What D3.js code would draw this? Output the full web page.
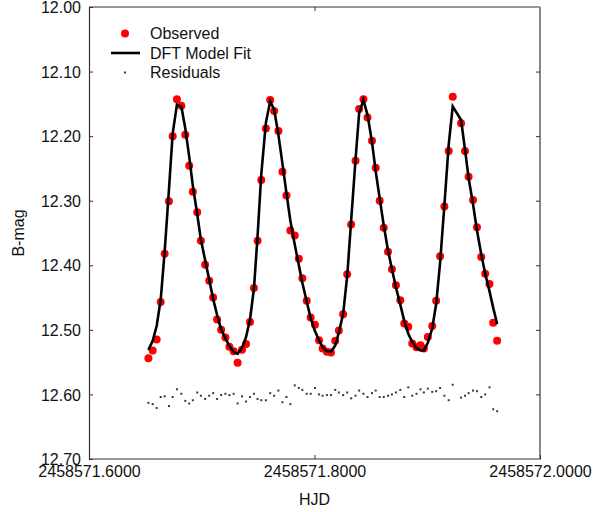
<!DOCTYPE html>
<html><head><meta charset="utf-8">
<script src="https://cdn.jsdelivr.net/npm/d3@7"></script>
<style>body{margin:0;background:#fff;} svg{display:block;} text{font-family:"Liberation Sans",Arial,sans-serif;}</style>
</head><body><svg id="c" width="595" height="512"></svg>
<script>
const hjd = [2458571.6527,2458571.6565,2458571.6600,2458571.6636,2458571.6671,2458571.6709,2458571.6742,2458571.6780,2458571.6819,2458571.6854,
2458571.6889,2458571.6921,2458571.6960,2458571.6992,2458571.7030,2458571.7066,2458571.7101,2458571.7136,2458571.7172,2458571.7210,
2458571.7245,2458571.7283,2458571.7318,2458571.7357,2458571.7393,2458571.7428,2458571.7463,2458571.7495,2458571.7528,2458571.7569,
2458571.7607,2458571.7642,2458571.7680,2458571.7716,2458571.7751,2458571.7786,2458571.7825,2458571.7861,2458571.7892,2458571.7931,
2458571.7966,2458571.8004,2458571.8040,2458571.8072,2458571.8110,2458571.8146,2458571.8184,2458571.8216,2458571.8254,2458571.8290,
2458571.8325,2458571.8364,2458571.8396,2458571.8434,2458571.8470,2458571.8510,2458571.8543,2458571.8578,2458571.8614,2458571.8652,
2458571.8687,2458571.8722,2458571.8761,2458571.8796,2458571.8832,2458571.8867,2458571.8905,2458571.8940,2458571.8970,2458571.9005,
2458571.9044,2458571.9079,2458571.9114,2458571.9152,2458571.9190,2458571.9226,2458571.9300,2458571.9335,2458571.9367,2458571.9406,
2458571.9441,2458571.9479,2458571.9514,2458571.9552,2458571.9585,2458571.9620];
const observed = [12.544,12.532,12.515,12.457,12.382,12.301,12.200,12.143,12.153,12.198,
12.246,12.286,12.318,12.362,12.399,12.424,12.450,12.484,12.500,12.512,
12.526,12.533,12.551,12.531,12.522,12.488,12.435,12.362,12.268,12.188,
12.144,12.161,12.192,12.255,12.292,12.346,12.354,12.390,12.420,12.455,
12.481,12.492,12.516,12.529,12.534,12.535,12.517,12.501,12.476,12.414,
12.337,12.238,12.158,12.143,12.171,12.207,12.249,12.300,12.342,12.379,
12.406,12.431,12.454,12.490,12.495,12.521,12.527,12.524,12.529,12.511,
12.494,12.455,12.386,12.309,12.223,12.139,12.180,12.223,12.263,12.299,
12.341,12.387,12.413,12.429,12.489,12.517];
const model = [12.531,12.517,12.494,12.453,12.379,12.283,12.196,12.151,12.154,12.188,
12.232,12.277,12.321,12.360,12.392,12.422,12.452,12.477,12.499,12.513,
12.525,12.534,12.537,12.528,12.511,12.484,12.436,12.355,12.259,12.179,
12.146,12.159,12.198,12.243,12.288,12.331,12.368,12.400,12.427,12.456,
12.482,12.502,12.516,12.527,12.533,12.534,12.524,12.504,12.475,12.417,
12.331,12.236,12.164,12.144,12.167,12.209,12.255,12.296,12.338,12.377,
12.406,12.434,12.461,12.486,12.506,12.519,12.528,12.532,12.532,12.520,
12.498,12.460,12.396,12.307,12.214,12.154,12.175,12.221,12.265,12.305,
12.346,12.383,12.413,12.440,12.466,12.491];
const residuals = [12.613,12.615,12.621,12.604,12.603,12.618,12.604,12.592,12.599,12.610,
12.614,12.609,12.597,12.602,12.607,12.602,12.598,12.607,12.601,12.599,
12.601,12.599,12.614,12.603,12.611,12.604,12.599,12.607,12.609,12.609,
12.598,12.602,12.594,12.612,12.604,12.615,12.586,12.590,12.593,12.599,
12.599,12.590,12.600,12.602,12.601,12.601,12.593,12.597,12.601,12.597,
12.606,12.602,12.594,12.599,12.604,12.598,12.594,12.604,12.604,12.602,
12.600,12.597,12.593,12.604,12.589,12.602,12.599,12.592,12.597,12.591,
12.596,12.595,12.590,12.602,12.609,12.585,12.605,12.602,12.598,12.594,
12.595,12.604,12.600,12.589,12.623,12.626];
const xTicks = [2458571.6, 2458571.8, 2458572.0];
const yTicks = [12.0,12.1,12.2,12.3,12.4,12.5,12.6,12.7];
const legendLabels = ["Observed","DFT Model Fit","Residuals"];

const svg = d3.select("#c");
const L=89, R=540, T=7, B=459;
const x = d3.scaleLinear().domain([2458571.6, 2458572.0]).range([L, R]);
const y = d3.scaleLinear().domain([12.0, 12.7]).range([T, B]);

// residuals
svg.append("g").selectAll("rect").data(residuals).join("rect")
  .attr("x",(d,i)=>x(hjd[i])-1).attr("y",d=>y(d)-1).attr("width",2).attr("height",2).attr("fill","#3a3a3a");

// observed
svg.append("g").selectAll("circle").data(observed).join("circle")
  .attr("cx",(d,i)=>x(hjd[i])).attr("cy",d=>y(d)).attr("r",4).attr("fill","#ff0000");

// model
const line = d3.line().x((d,i)=>x(hjd[i])).y(d=>y(d));
svg.append("path").datum(model).attr("d",line).attr("fill","none").attr("stroke","#000").attr("stroke-width",2.6).attr("stroke-linejoin","miter");

// frame
svg.append("line").attr("x1",L).attr("x2",R).attr("y1",T).attr("y2",T).attr("stroke","#333").attr("stroke-width",1.2);
svg.append("line").attr("x1",L).attr("x2",R+1).attr("y1",B).attr("y2",B).attr("stroke","#333").attr("stroke-width",1.2);
svg.append("line").attr("x1",R).attr("x2",R).attr("y1",T).attr("y2",B).attr("stroke","#7a7a7a").attr("stroke-width",1.8);

// axes
const yAxis = d3.axisLeft(y).tickValues(yTicks).tickFormat(d3.format(".2f")).tickSizeInner(-4).tickSizeOuter(0).tickPadding(8);
const gy = svg.append("g").attr("transform",`translate(${L},0)`).call(yAxis);
const yAxisR = d3.axisRight(y).tickValues(yTicks.slice(1,-1)).tickFormat("").tickSizeInner(-4).tickSizeOuter(0);
const gyr = svg.append("g").attr("transform",`translate(${R},0)`).call(yAxisR);
gyr.select(".domain").remove();
const xAxis = d3.axisBottom(x).tickValues(xTicks).tickFormat(d3.format(".4f")).tickSizeInner(-4).tickSizeOuter(0).tickPadding(7);
const gx = svg.append("g").attr("transform",`translate(0,${B})`).call(xAxis);
gx.select(".domain").remove();
const xAxisT = d3.axisTop(x).tickValues(xTicks.slice(1,-1)).tickFormat("").tickSizeInner(-4).tickSizeOuter(0);
const gxt = svg.append("g").attr("transform",`translate(0,${T})`).call(xAxisT);
gxt.select(".domain").remove();
[gy,gx].forEach(g=>{
  g.selectAll("text").attr("font-size",16).attr("fill","#111").style("font-family","'Liberation Sans',Arial,sans-serif");
  g.selectAll("line").attr("stroke","#333");
});
gyr.selectAll("line").attr("stroke","#333");
gxt.selectAll("line").attr("stroke","#333");
gy.select(".domain").attr("stroke","#333").attr("stroke-width",1.2);
gy.selectAll(".tick text").attr("dy","0.35em");
gx.selectAll(".tick text").attr("dy","0.71em");

// axis titles
svg.append("text").attr("x",(L+R)/2).attr("y",505).attr("text-anchor","middle").attr("font-size",16).attr("fill","#111").text("HJD");
svg.append("text").attr("transform",`translate(24,${(T+B)/2}) rotate(-90)`).attr("text-anchor","middle").attr("font-size",16).attr("fill","#111").text("B-mag");

// legend
const lg = svg.append("g");
const ly = [33.5, 53, 72.5];
lg.append("circle").attr("cx",125).attr("cy",ly[0]).attr("r",4).attr("fill","#ff0000");
lg.append("line").attr("x1",111).attr("x2",140).attr("y1",ly[1]).attr("y2",ly[1]).attr("stroke","#000").attr("stroke-width",2.6);
lg.append("rect").attr("x",124).attr("y",ly[2]-1).attr("width",2).attr("height",2).attr("fill","#3a3a3a");
lg.selectAll("text").data(legendLabels).join("text")
  .attr("x",150).attr("y",(d,i)=>ly[i]).attr("dy","0.35em").attr("font-size",16).attr("fill","#111").text(d=>d);
</script></body></html>
